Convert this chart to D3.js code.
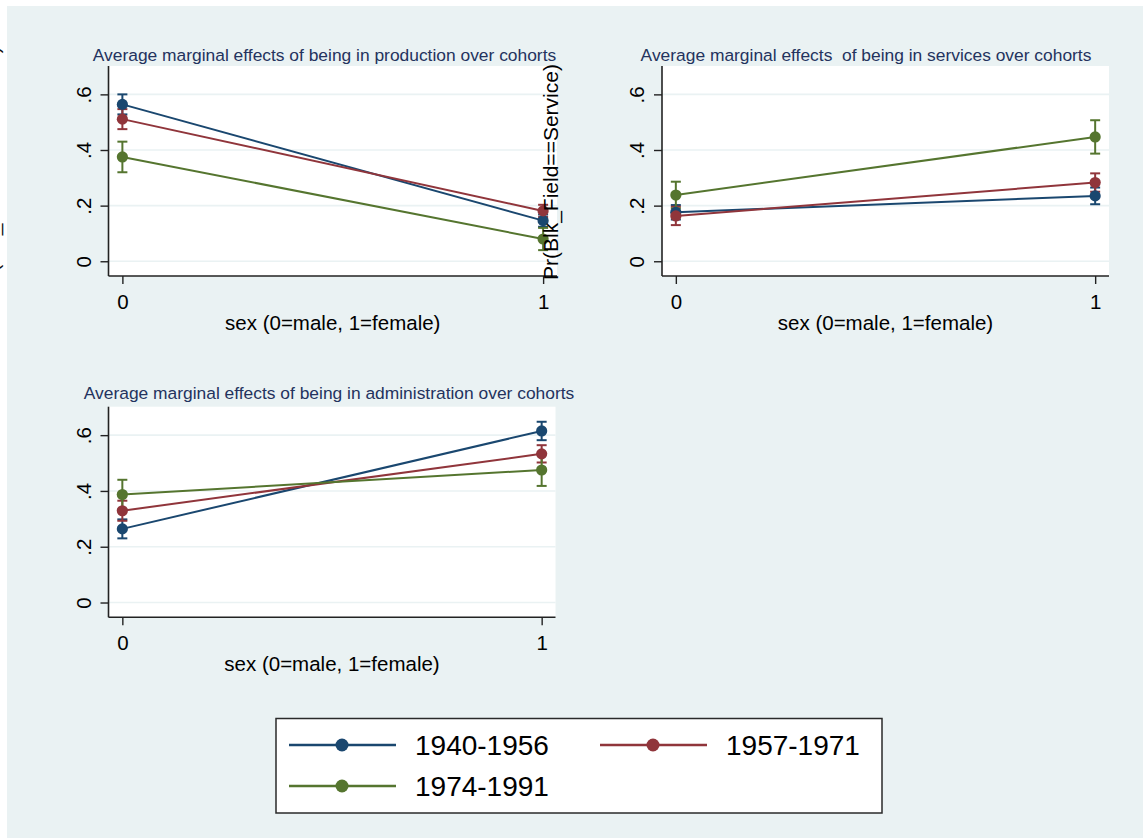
<!DOCTYPE html>
<html>
<head>
<meta charset="utf-8">
<script src="https://cdn.jsdelivr.net/npm/d3@7"></script>
<style>
  html, body { margin: 0; padding: 0; background: #ffffff; }
  svg { display: block; font-family: "Liberation Sans", Arial, sans-serif; }
  .pre { white-space: pre; }
</style>
</head>
<body>
<svg id="chart" width="1143" height="838"></svg>
<script>
// ---- data ---------------------------------------------------------------
const sexLevels = [0, 1];
const sexTickLabels = ["0", "1"];
const yTicks = [0, 0.2, 0.4, 0.6];
const yTickLabels = ["0", ".2", ".4", ".6"];

const cohorts = ["1940-1956", "1957-1971", "1974-1991"];
const cohortColors = ["#1a476f", "#90353b", "#55752f"];

// average marginal effects per cohort: [male, female]
const productionMargins = [[0.564, 0.146], [0.511, 0.181], [0.375, 0.080]];
const productionHalfCI  = [[0.036, 0.022], [0.036, 0.022], [0.055, 0.040]];

const servicesMargins = [[0.176, 0.235], [0.163, 0.283], [0.238, 0.447]];
const servicesHalfCI  = [[0.026, 0.030], [0.033, 0.033], [0.048, 0.060]];

const adminMargins = [[0.264, 0.615], [0.329, 0.533], [0.387, 0.475]];
const adminHalfCI  = [[0.034, 0.033], [0.036, 0.031], [0.053, 0.057]];

const panelTitles = [
  "Average marginal effects of being in production over cohorts",
  "Average marginal effects  of being in services over cohorts",
  "Average marginal effects of being in administration over cohorts"
];
const xAxisTitle = "sex (0=male, 1=female)";

// ---- layout -------------------------------------------------------------
const W = 1143, H = 838;
const svg = d3.select("#chart");
const BG = "#eaf2f3";
const TITLE_COLOR = "#24335e";

svg.append("rect").attr("x", 7).attr("y", 6)
  .attr("width", W - 7).attr("height", H - 6).attr("fill", BG);

// left-over y title of the combined graph, mostly cut off at the page edge
svg.append("text")
  .attr("transform", "translate(-1.5,292.5) rotate(-90)")
  .attr("font-size", 21).attr("fill", "#111")
  .text("Pr(Blk_Field==Production)");

const panels = [
  { margins: productionMargins, halfCI: productionHalfCI, title: panelTitles[0],
    box: { left: 108.5, right: 557, top: 66, bottom: 276 }, titleX: 324.5, titleY: 60.7 },
  { margins: servicesMargins, halfCI: servicesHalfCI, title: panelTitles[1],
    box: { left: 662, right: 1109, top: 66, bottom: 276 }, titleX: 866, titleY: 60.7 },
  { margins: adminMargins, halfCI: adminHalfCI, title: panelTitles[2],
    box: { left: 108.5, right: 555.5, top: 406.7, bottom: 617.3 }, titleX: 329, titleY: 399.3 }
];

const xDomain = [-0.033, 1.033];
const yDomain = [-0.053, 0.702];

panels.forEach((p, pi) => {
  const b = p.box;
  const x = d3.scaleLinear().domain(xDomain).range([b.left, b.right]);
  const y = d3.scaleLinear().domain(yDomain).range([b.bottom, b.top]);
  const g = svg.append("g").attr("class", "panel-" + pi);

  // plot region
  g.append("rect").attr("x", b.left).attr("y", b.top)
    .attr("width", b.right - b.left).attr("height", b.bottom - b.top)
    .attr("fill", "#ffffff");

  // gridlines
  g.selectAll("line.grid").data(yTicks).join("line")
    .attr("class", "grid")
    .attr("x1", b.left).attr("x2", b.right)
    .attr("y1", d => y(d)).attr("y2", d => y(d))
    .attr("stroke", BG).attr("stroke-width", 1.6);

  // title
  g.append("text").attr("class", "pre")
    .attr("x", p.titleX).attr("y", p.titleY)
    .attr("text-anchor", "middle").attr("font-size", 17.4)
    .attr("fill", TITLE_COLOR).text(p.title);

  // y axis
  const yAxis = d3.axisLeft(y).tickValues(yTicks)
    .tickFormat((d, i) => yTickLabels[i]).tickSize(8).tickSizeOuter(0);
  const ya = g.append("g").attr("transform", `translate(${b.left},0)`).call(yAxis);
  ya.select(".domain").attr("d", `M0,${b.bottom}V${b.top}`)
    .attr("stroke", "#222").attr("stroke-width", 1.6);
  ya.selectAll(".tick line").attr("stroke", "#222").attr("stroke-width", 1.4);
  ya.selectAll(".tick text")
    .attr("transform", "rotate(-90)")
    .attr("x", 0).attr("y", -18).attr("dy", 0)
    .attr("text-anchor", "middle")
    .attr("font-size", 20.5).attr("font-family", "Liberation Sans, Arial, sans-serif")
    .attr("fill", "#000");

  // x axis
  const xAxis = d3.axisBottom(x).tickValues(sexLevels)
    .tickFormat((d, i) => sexTickLabels[i]).tickSize(8).tickSizeOuter(0);
  const xa = g.append("g").attr("transform", `translate(0,${b.bottom})`).call(xAxis);
  xa.select(".domain").attr("d", `M${b.left},0H${b.right}`)
    .attr("stroke", "#222").attr("stroke-width", 1.6);
  xa.selectAll(".tick line").attr("stroke", "#222").attr("stroke-width", 1.4);
  xa.selectAll(".tick text")
    .attr("y", 32.5).attr("dy", 0)
    .attr("font-size", 20.5).attr("font-family", "Liberation Sans, Arial, sans-serif")
    .attr("fill", "#000");

  g.append("text")
    .attr("x", (b.left + b.right) / 2).attr("y", b.bottom + 54)
    .attr("text-anchor", "middle").attr("font-size", 20.5).attr("fill", "#000")
    .text(xAxisTitle);

  // confidence intervals
  p.margins.forEach((vals, si) => {
    const col = cohortColors[si];
    vals.forEach((v, k) => {
      const h = p.halfCI[si][k];
      const cx = x(sexLevels[k]);
      const ci = g.append("g").attr("stroke", col).attr("stroke-width", 2);
      ci.append("line").attr("x1", cx).attr("x2", cx)
        .attr("y1", y(v - h)).attr("y2", y(v + h));
      ci.append("line").attr("x1", cx - 5).attr("x2", cx + 5)
        .attr("y1", y(v - h)).attr("y2", y(v - h));
      ci.append("line").attr("x1", cx - 5).attr("x2", cx + 5)
        .attr("y1", y(v + h)).attr("y2", y(v + h));
    });
  });

  // connected margins
  const line = d3.line().x((d, k) => x(sexLevels[k])).y(d => y(d));
  p.margins.forEach((vals, si) => {
    const col = cohortColors[si];
    g.append("path").datum(vals).attr("d", line)
      .attr("fill", "none").attr("stroke", col).attr("stroke-width", 2);
    g.selectAll(null).data(vals).join("circle")
      .attr("cx", (d, k) => x(sexLevels[k])).attr("cy", d => y(d))
      .attr("r", 5.6).attr("fill", col);
  });
});

// y title of the services panel, drawn where the combined layout placed it
svg.append("text")
  .attr("transform", "translate(558,280) rotate(-90)")
  .attr("font-size", 21).attr("fill", "#000")
  .text("Pr(Blk_Field==Service)");

// ---- legend ---------------------------------------------------------------
const legend = svg.append("g");
legend.append("rect").attr("x", 276).attr("y", 718.5)
  .attr("width", 606).attr("height", 94.5)
  .attr("fill", "#ffffff").attr("stroke", "#2a2a2a").attr("stroke-width", 1.5);

const legendPos = [
  { lx: 289, cy: 745 }, { lx: 600, cy: 745 }, { lx: 289, cy: 786 }
];
cohorts.forEach((c, i) => {
  const pos = legendPos[i];
  const col = cohortColors[i];
  legend.append("line").attr("x1", pos.lx).attr("x2", pos.lx + 107)
    .attr("y1", pos.cy).attr("y2", pos.cy)
    .attr("stroke", col).attr("stroke-width", 2.6);
  legend.append("circle").attr("cx", pos.lx + 53).attr("cy", pos.cy)
    .attr("r", 6.5).attr("fill", col);
  legend.append("text").attr("x", pos.lx + 126).attr("y", pos.cy + 10)
    .attr("font-size", 28).attr("fill", "#000").text(c);
});
</script>
</body>
</html>
